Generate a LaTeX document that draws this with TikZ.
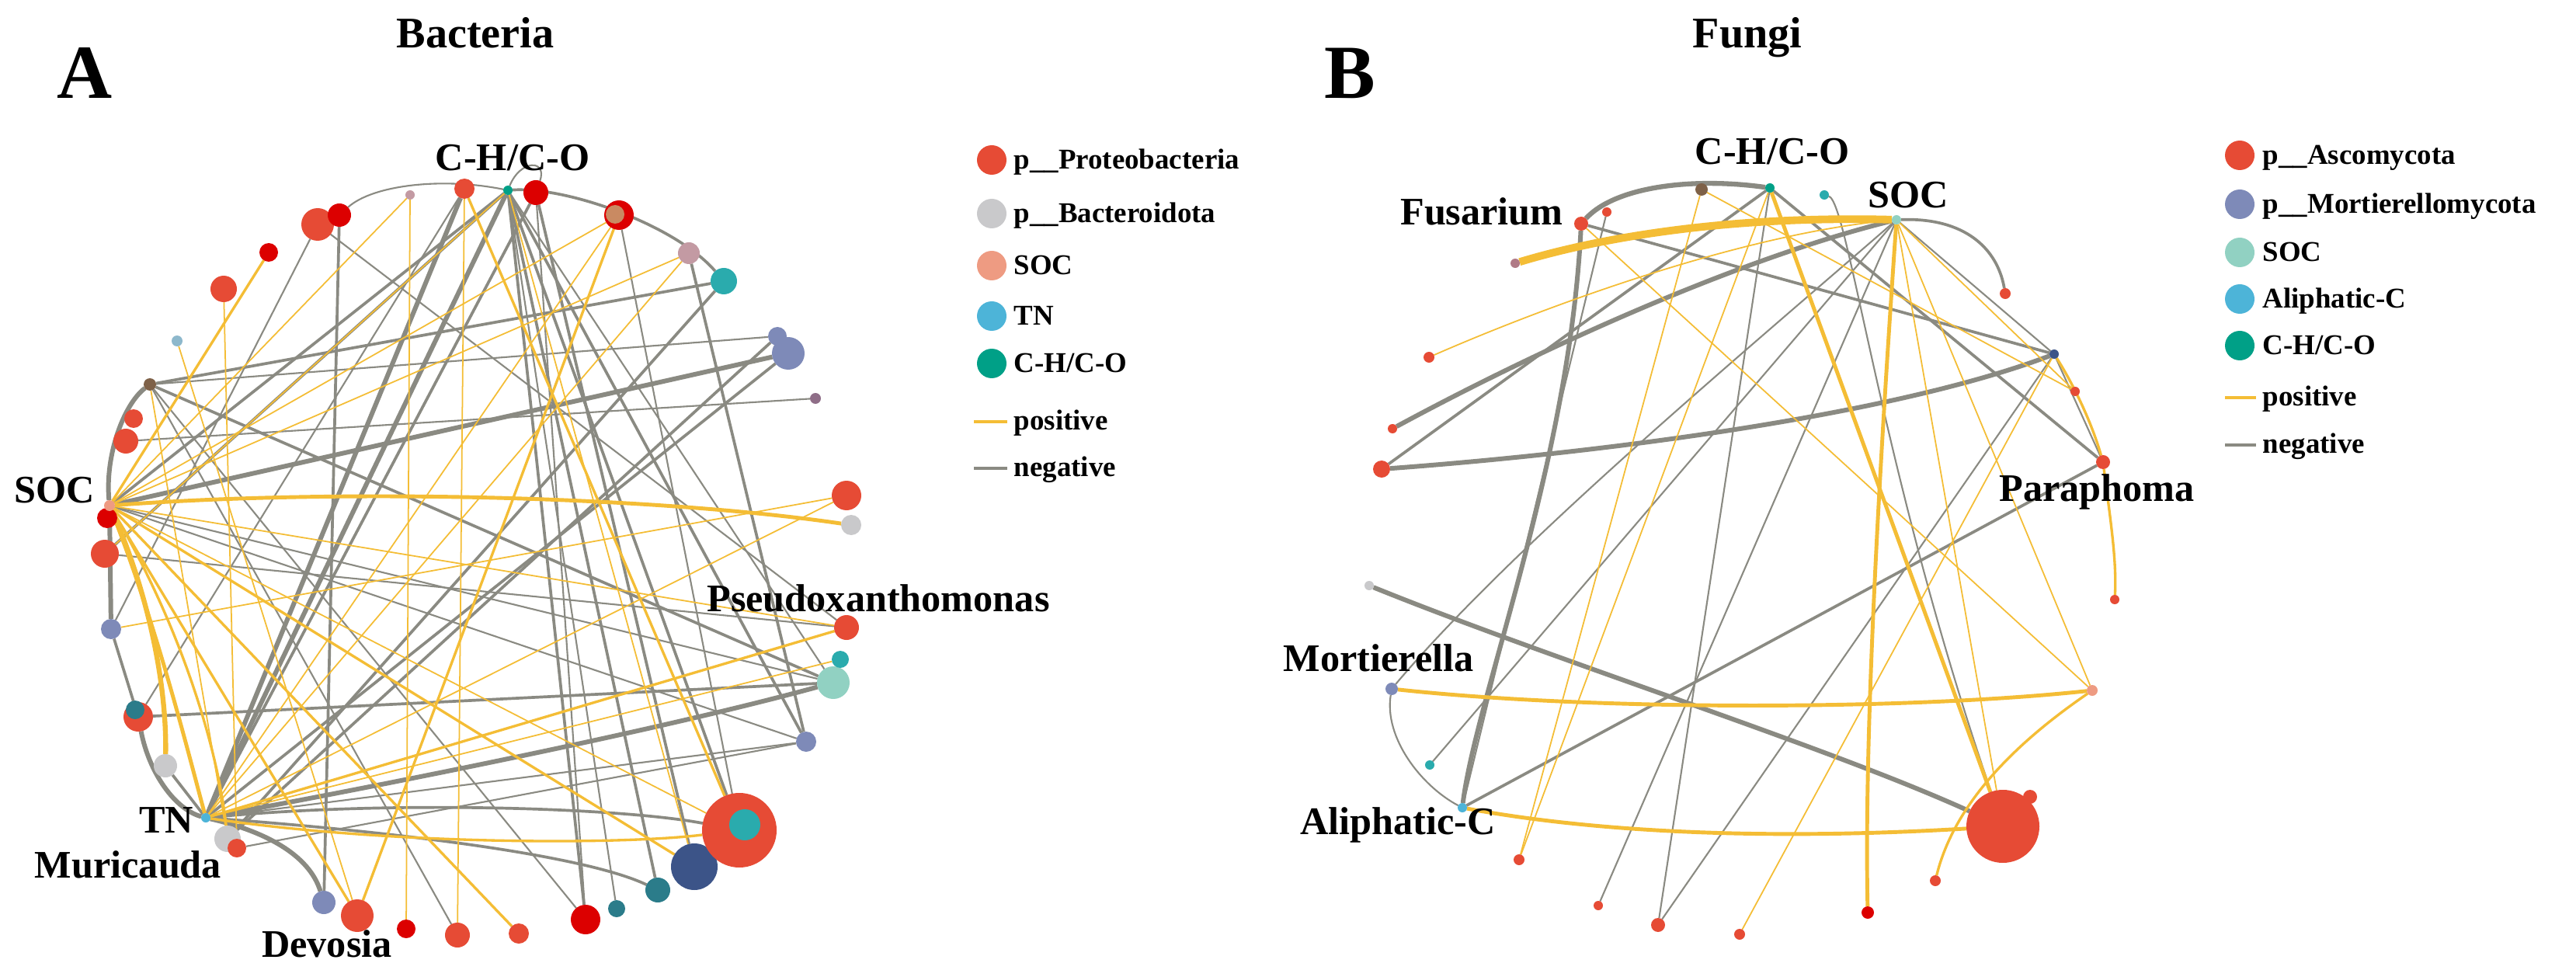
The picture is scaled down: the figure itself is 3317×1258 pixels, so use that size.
\documentclass[tikz,border=0pt]{standalone}
\usepackage{fontspec}
\setmainfont{Liberation Serif}
\definecolor{cOr}{HTML}{E64B35}
\definecolor{cDr}{HTML}{DC0000}
\definecolor{cGy}{HTML}{C9C9CB}
\definecolor{cSal}{HTML}{EE9B82}
\definecolor{cTN}{HTML}{4DB4D8}
\definecolor{cCHO}{HTML}{00A087}
\definecolor{cTeal}{HTML}{2AABAD}
\definecolor{cSl}{HTML}{7E8AB8}
\definecolor{cNv}{HTML}{3C5488}
\definecolor{cDt}{HTML}{2B7C8A}
\definecolor{cMint}{HTML}{91D1C2}
\definecolor{cMv}{HTML}{C39AA3}
\definecolor{cPu}{HTML}{8F6E88}
\definecolor{cBr}{HTML}{7E6148}
\definecolor{cTan}{HTML}{C98A62}
\definecolor{cLb}{HTML}{8DB8CC}
\definecolor{cFm}{HTML}{B07A86}
\definecolor{cPos}{HTML}{F4BD35}
\definecolor{cNeg}{HTML}{8A8A82}
\pgfdeclarelayer{edges}
\pgfsetlayers{edges,main}
\begin{document}
\begin{tikzpicture}[x=0.1mm,y=-0.1mm,
  nd/.style={circle,inner sep=0pt,outer sep=0pt,minimum size=#1*0.2mm},
  lbl/.style={font=\fontsize{14.3}{16}\selectfont\bfseries,inner sep=0pt},
  ttl/.style={font=\fontsize{16}{19}\selectfont\bfseries,inner sep=0pt},
  pnl/.style={font=\fontsize{28}{32}\selectfont\bfseries,inner sep=0pt},
  leg/.style={font=\fontsize{10.5}{12}\selectfont\bfseries,inner sep=0pt,anchor=base west},
  nT/.style={cNeg,line width=0.6pt},
  nM/.style={cNeg,line width=1.05pt},
  nK/.style={cNeg,line width=1.7pt},
  pT/.style={cPos,line width=0.5pt},
  pM/.style={cPos,line width=0.95pt},
  pK/.style={cPos,line width=1.4pt}]
\useasboundingbox (0,0) rectangle (3317,1258);

% ================= Bacteria nodes =================
\node[nd=13,fill=cOr] (b1) at (598,243) {};
\node[nd=6,fill=cCHO] (chb) at (654,245) {};
\node[nd=16,fill=cDr] (b3) at (690,248) {};
\node[nd=6,fill=cMv] (b4) at (528,251) {};
\node[nd=21,fill=cOr] (b6) at (409,289) {};
\node[nd=15,fill=cDr] (b5) at (437,277) {};
\node[nd=19,fill=cDr] (b7) at (797,277) {};
\node[nd=12,fill=cTan] (b7i) at (792,276) {};
\node[nd=12,fill=cDr] (b8) at (346,325) {};
\node[nd=17,fill=cOr] (b9) at (288,372) {};
\node[nd=14,fill=cMv] (b10) at (887,326) {};
\node[nd=17,fill=cTeal] (b11) at (932,362) {};
\node[nd=7,fill=cLb] (b12) at (228,439) {};
\node[nd=12,fill=cSl] (b13s) at (1001,433) {};
\node[nd=21,fill=cSl] (b13) at (1015,455) {};
\node[nd=7,fill=cPu] (b14) at (1050,513) {};
\node[nd=8,fill=cBr] (brn) at (193,495) {};
\node[nd=12,fill=cOr] (b16) at (172,539) {};
\node[nd=16,fill=cOr] (b17) at (162,568) {};
\node[nd=13,fill=cDr] (b18) at (138,667) {};
\node[nd=7,fill=cSal] (socb) at (141,651) {};
\node[nd=19,fill=cOr] (b19) at (1090,638) {};
\node[nd=13,fill=cGy] (b20) at (1096,676) {};
\node[nd=18,fill=cOr] (b21) at (135,713) {};
\node[nd=16,fill=cOr] (b22) at (1090,808) {};
\node[nd=21,fill=cMint] (b24) at (1073,879) {};
\node[nd=11,fill=cTeal] (b23) at (1082,849) {};
\node[nd=13,fill=cSl] (b25) at (143,810) {};
\node[nd=19,fill=cOr] (b26) at (178,923) {};
\node[nd=12,fill=cDt] (b26i) at (174,914) {};
\node[nd=13,fill=cSl] (b27) at (1038,955) {};
\node[nd=15,fill=cGy] (b28) at (213,986) {};
\node[nd=17,fill=cGy] (b29) at (293,1080) {};
\node[nd=12,fill=cOr] (b30) at (305,1092) {};
\node[nd=6,fill=cTN] (tnb) at (265,1053) {};
\node[nd=15,fill=cSl] (b31) at (417,1162) {};
\node[nd=21,fill=cOr] (b32) at (460,1179) {};
\node[nd=12,fill=cDr] (b33) at (523,1196) {};
\node[nd=16,fill=cOr] (b34) at (589,1204) {};
\node[nd=13,fill=cOr] (b35) at (668,1202) {};
\node[nd=19,fill=cDr] (b36) at (754,1184) {};
\node[nd=11,fill=cDt] (b37) at (794,1170) {};
\node[nd=16,fill=cDt] (b38) at (847,1146) {};
\node[nd=30,fill=cNv] (b39) at (894,1116) {};
\node[nd=48,fill=cOr] (b40) at (952,1069) {};
\node[nd=20,fill=cTeal] (b40i) at (959,1062) {};

% ================= Fungi nodes =================
\node[nd=8,fill=cBr] (fbrn) at (2191,244) {};
\node[nd=6,fill=cCHO] (fcho) at (2279,242) {};
\node[nd=6,fill=cTeal] (fteal) at (2349,251) {};
\node[nd=6,fill=cMint] (fsoc) at (2442,283) {};
\node[nd=9,fill=cOr] (ffus) at (2036,288) {};
\node[nd=6,fill=cOr] (fr1) at (2069,273) {};
\node[nd=6,fill=cFm] (fmv) at (1951,339) {};
\node[nd=7,fill=cOr] (fr2) at (2582,378) {};
\node[nd=7,fill=cOr] (fr3) at (1840,460) {};
\node[nd=6,fill=cNv] (fnv) at (2645,456) {};
\node[nd=6,fill=cOr] (fr4) at (2672,504) {};
\node[nd=6,fill=cOr] (fr5) at (1793,552) {};
\node[nd=11,fill=cOr] (fr6) at (1779,604) {};
\node[nd=9,fill=cOr] (fpar) at (2708,595) {};
\node[nd=6,fill=cOr] (fr7) at (2723,772) {};
\node[nd=6,fill=cGy] (fgr) at (1763,754) {};
\node[nd=8,fill=cSl] (fmor) at (1792,887) {};
\node[nd=7,fill=cSal] (fsal) at (2694,889) {};
\node[nd=6,fill=cTeal] (ftl2) at (1841,985) {};
\node[nd=6,fill=cTN] (fali) at (1883,1040) {};
\node[nd=7,fill=cOr] (fr8) at (1956,1107) {};
\node[nd=6,fill=cOr] (fr9) at (2058,1166) {};
\node[nd=9,fill=cOr] (fr10) at (2135,1191) {};
\node[nd=7,fill=cOr] (fr11) at (2240,1203) {};
\node[nd=8,fill=cDr] (fdr) at (2405,1175) {};
\node[nd=7,fill=cOr] (fr12) at (2492,1134) {};
\node[nd=47,fill=cOr] (fbig) at (2579,1064) {};
\node[nd=9,fill=cOr] (fbump) at (2614,1026) {};

% ================= Edges =================
\begin{pgfonlayer}{edges}
\fill[white] (0,0) rectangle (3317,1258);
% --- bacteria negative
\draw[nK] (chb) -- (tnb);
\draw[nK] (b1) -- (tnb);
\draw[nM] (b3) -- (tnb);
\draw[nK] (brn) .. controls (160,520) and (135,585) .. (socb);
\draw[nK] (socb) -- (b25);
\draw[nM] (b25) -- (b26);
\draw[nK] (b26) .. controls (192,995) and (225,1042) .. (tnb);
\draw[nK] (tnb) .. controls (340,1070) and (398,1100) .. (b31);
\draw[nM] (chb) .. controls (730,240) and (870,290) .. (b11);
\draw[nT] (b5) .. controls (480,238) and (570,228) .. (chb);
\draw[nT] (chb) .. controls (670,205) and (705,205) .. (b3);
\draw[nK] (tnb) .. controls (500,1010) and (850,940) .. (b24);
\draw[nM] (chb) -- (socb);
\draw[nM] (chb) -- (b21);
\draw[nM] (chb) -- (b40);
\draw[nM] (chb) -- (b36);
\draw[nM] (chb) -- (b38);
\draw[nM] (chb) -- (b27);
\draw[nT] (chb) -- (b37);
\draw[nT] (chb) -- (b24);
\draw[nM] (b3) -- (b39);
\draw[nT] (b3) -- (b36);
\draw[nM] (b10) -- (b27);
\draw[nM] (b11) -- (b29);
\draw[nM] (b13) -- (tnb);
\draw[nK] (b13) -- (socb);
\draw[nM] (b13s) -- (b29);
\draw[nM] (brn) -- (b11);
\draw[nM] (brn) -- (b24);
\draw[nT] (brn) -- (b13s);
\draw[nT] (brn) -- (b34);
\draw[nT] (brn) -- (b36);
\draw[nM] (b5) -- (b31);
\draw[nM] (b26) -- (b24);
\draw[nM] (tnb) .. controls (500,1030) and (800,1040) .. (b40);
\draw[nM] (tnb) .. controls (500,1070) and (750,1100) .. (b38);
\draw[nT] (tnb) -- (b27);
\draw[nT] (b7) -- (b40);
\draw[nT] (b17) -- (b14);
\draw[nT] (b6) -- (b22);
\draw[nT] (socb) -- (b24);
\draw[nT] (socb) -- (b27);
\draw[nT] (b26) -- (b1);
\draw[nT] (b30) -- (b27);
\draw[nT] (b25) -- (b6);
\draw[nM] (b28) -- (tnb);
\draw[nT] (b21) -- (b22);
% --- bacteria positive
\draw[pK] (socb) .. controls (450,628) and (850,640) .. (b20);
\draw[cPos,line width=1.8pt] (socb) .. controls (190,760) and (215,880) .. (b28);
\draw[pK] (socb) .. controls (200,800) and (240,960) .. (tnb);
\draw[pM] (socb) -- (b32);
\draw[pM] (b8) -- (socb);
\draw[pM] (socb) -- (b39);
\draw[pM] (socb) -- (b35);
\draw[pM] (tnb) .. controls (500,1088) and (800,1088) .. (b40);
\draw[pM] (tnb) -- (b22);
\draw[pM] (b1) -- (b40);
\draw[pM] (b7) -- (b32);
\draw[pT] (socb) -- (b22);
\draw[pT] (socb) -- (b40);
\draw[pT] (socb) -- (b4);
\draw[pT] (socb) -- (b7);
\draw[pT] (socb) -- (b10);
\draw[pT] (b4) -- (b33);
\draw[pT] (b1) -- (b34);
\draw[pT] (b9) -- (b30);
\draw[pT] (b12) -- (b32);
\draw[pT] (brn) -- (b29);
\draw[pT] (tnb) -- (b23);
\draw[pT] (tnb) -- (b7);
\draw[pT] (tnb) -- (b10);
\draw[pT] (tnb) -- (b19);
\draw[pT] (chb) -- (b39);
\draw[pT] (chb) -- (b21);
\draw[pM] (socb) .. controls (230,800) and (280,960) .. (b29);
\draw[pT] (b19) -- (b25);
% --- fungi negative
\draw[cNeg,line width=1.8pt] (ffus) .. controls (2080,240) and (2180,228) .. (fcho);
\draw[nM] (fsoc) .. controls (2530,280) and (2572,320) .. (fr2);
\draw[nK] (ffus) .. controls (2020,600) and (1900,900) .. (fali);
\draw[nT] (fr1) -- (fali);
\draw[nM] (fr6) -- (fcho);
\draw[nK] (fr5) .. controls (2000,440) and (2250,330) .. (fsoc);
\draw[nK] (fr6) .. controls (2100,580) and (2450,530) .. (fnv);
\draw[nM] (ffus) -- (fnv);
\draw[nM] (fcho) -- (fpar);
\draw[nT] (fsoc) -- (ftl2);
\draw[nT] (fsoc) .. controls (2250,450) and (1950,700) .. (fmor);
\draw[nT] (fsoc) -- (fr9);
\draw[nT] (fmor) .. controls (1782,950) and (1830,1012) .. (fali);
\draw[nK] (fgr) .. controls (2000,850) and (2350,960) .. (fbig);
\draw[nM] (fali) -- (fpar);
\draw[nT] (fr10) -- (fnv);
\draw[nT] (fteal) .. controls (2380,260) and (2420,600) .. (fbig);
\draw[nT] (fnv) -- (fpar);
\draw[nT] (fsoc) -- (fnv);
\draw[nT] (fcho) -- (fr10);
% --- fungi positive
\draw[cPos,line width=2.8pt] (fmv) .. controls (2080,300) and (2250,278) .. (fsoc);
\draw[pT] (fr3) .. controls (2000,390) and (2250,300) .. (fsoc);
\draw[pK] (fcho) -- (fbig);
\draw[pK] (fsoc) .. controls (2420,600) and (2400,950) .. (fdr);
\draw[pK] (fmor) .. controls (2050,915) and (2450,915) .. (fsal);
\draw[pK] (fali) .. controls (2100,1080) and (2350,1078) .. (fbig);
\draw[pM] (fsal) .. controls (2620,940) and (2520,1020) .. (fr12);
\draw[pT] (fr8) -- (fbrn);
\draw[pT] (fr11) -- (fnv);
\draw[pM] (fpar) .. controls (2716,660) and (2726,720) .. (fr7);
\draw[pM] (fnv) .. controls (2668,492) and (2692,540) .. (fpar);
\draw[pT] (fsoc) -- (fr4);
\draw[pT] (ffus) -- (fsal);
\draw[pT] (fbrn) -- (fr4);
\draw[pT] (fsoc) -- (fsal);
\draw[pT] (fsoc) -- (fbig);
\draw[pT] (fcho) -- (fr8);
\end{pgfonlayer}

% ================= Labels =================
\node[pnl,anchor=base] (pA) at (109,127) {A};
\node[ttl,anchor=base] (tBac) at (612,62) {Bacteria};
\node[pnl,anchor=base] (pB) at (1738,127) {B};
\node[ttl,anchor=base] (tFun) at (2250,62) {Fungi};

\node[lbl,anchor=base] (lchb) at (660,220) {C-H/C-O};
\node[lbl,anchor=base] (lsocb) at (70,647) {SOC};
\node[lbl,anchor=base] (ltnb) at (214,1072) {TN};
\node[lbl,anchor=base] (lmur) at (165,1130) {Muricauda};
\node[lbl,anchor=base] (ldev) at (421,1232) {Devosia};
\node[lbl,anchor=base] (lpse) at (1131,787) {Pseudoxanthomonas};

\node[lbl,anchor=base] (lfcho) at (2282,212) {C-H/C-O};
\node[lbl,anchor=base] (lfsoc) at (2457,268) {SOC};
\node[lbl,anchor=base] (lfus) at (1908,290) {Fusarium};
\node[lbl,anchor=base] (lpar) at (2700,645) {Paraphoma};
\node[lbl,anchor=base] (lmor) at (1775,864) {Mortierella};
\node[lbl,anchor=base] (lali) at (1800,1074) {Aliphatic-C};

% ================= Legends =================
\node[nd=19,fill=cOr] (kb1) at (1277,206) {};
\node[nd=19,fill=cGy] (kb2) at (1277,275) {};
\node[nd=19,fill=cSal] (kb3) at (1277,342) {};
\node[nd=19,fill=cTN] (kb4) at (1277,407) {};
\node[nd=19,fill=cCHO] (kb5) at (1277,468) {};
\node[leg] (tb1) at (1305,218) {p\_\_Proteobacteria};
\node[leg] (tb2) at (1305,287) {p\_\_Bacteroidota};
\node[leg] (tb3) at (1305,354) {SOC};
\node[leg] (tb4) at (1305,419) {TN};
\node[leg] (tb5) at (1305,480) {C-H/C-O};
\coordinate (kbp1) at (1254,543); \coordinate (kbp2) at (1297,543);
\coordinate (kbn1) at (1254,603); \coordinate (kbn2) at (1297,603);
\draw[cPos,line width=1.3pt] (kbp1) -- (kbp2);
\draw[cNeg,line width=1.3pt] (kbn1) -- (kbn2);
\node[leg] (tb6) at (1305,553) {positive};
\node[leg] (tb7) at (1305,613) {negative};

\node[nd=19,fill=cOr] (kf1) at (2884,200) {};
\node[nd=19,fill=cSl] (kf2) at (2884,263) {};
\node[nd=19,fill=cMint] (kf3) at (2884,325) {};
\node[nd=19,fill=cTN] (kf4) at (2884,385) {};
\node[nd=19,fill=cCHO] (kf5) at (2884,445) {};
\node[leg] (tf1) at (2913,212) {p\_\_Ascomycota};
\node[leg] (tf2) at (2913,275) {p\_\_Mortierellomycota};
\node[leg] (tf3) at (2913,337) {SOC};
\node[leg] (tf4) at (2913,397) {Aliphatic-C};
\node[leg] (tf5) at (2913,457) {C-H/C-O};
\coordinate (kfp1) at (2865,512); \coordinate (kfp2) at (2905,512);
\coordinate (kfn1) at (2865,573); \coordinate (kfn2) at (2905,573);
\draw[cPos,line width=1.3pt] (kfp1) -- (kfp2);
\draw[cNeg,line width=1.3pt] (kfn1) -- (kfn2);
\node[leg] (tf6) at (2913,522) {positive};
\node[leg] (tf7) at (2913,583) {negative};
\end{tikzpicture}
\end{document}
